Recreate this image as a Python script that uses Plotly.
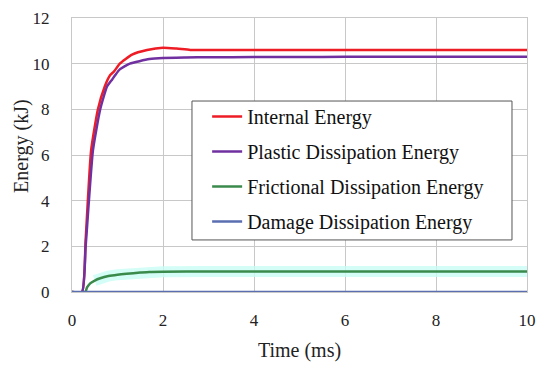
import plotly.graph_objects as go

time_internal = [0, 0.22, 0.3, 0.42, 0.57, 0.72, 0.84, 0.92, 1.05, 1.32, 1.65, 2.0, 2.3, 2.6, 3.0, 4.0, 5.0, 6.0, 7.0, 8.0, 9.0, 10.0]
internal = [0, 0, 2.3, 6.2, 8.0, 9.0, 9.5, 9.65, 10.0, 10.4, 10.6, 10.7, 10.66, 10.6, 10.6, 10.6, 10.6, 10.6, 10.6, 10.6, 10.6, 10.6]

time_plastic = [0, 0.22, 0.3, 0.46, 0.62, 0.77, 0.88, 0.95, 1.05, 1.27, 1.7, 2.0, 2.5, 3.0, 4.0, 5.0, 6.0, 7.0, 8.0, 9.0, 10.0]
plastic = [0, 0, 2.0, 6.2, 8.0, 9.0, 9.3, 9.5, 9.75, 10.0, 10.2, 10.25, 10.27, 10.28, 10.29, 10.29, 10.3, 10.3, 10.3, 10.3, 10.3]

time_frictional = [0, 0.29, 0.33, 0.4, 0.5, 0.62, 0.8, 1.0, 1.2, 1.5, 1.7, 2.0, 3.0, 4.0, 5.0, 6.0, 7.0, 8.0, 9.0, 10.0]
frictional = [0, 0, 0.2, 0.38, 0.5, 0.6, 0.7, 0.76, 0.8, 0.85, 0.88, 0.89, 0.9, 0.9, 0.9, 0.9, 0.9, 0.9, 0.9, 0.9]

time_damage = [0, 10.0]
damage = [0, 0]

series = [
    ("Internal Energy", time_internal, internal, "#ee1c25"),
    ("Plastic Dissipation Energy", time_plastic, plastic, "#7030a0"),
    ("Frictional Dissipation Energy", time_frictional, frictional, "#3a8a4c"),
    ("Damage Dissipation Energy", time_damage, damage, "#5a6eb0"),
]

x_title = "Time (ms)"
y_title = "Energy (kJ)"

font_family = "Liberation Serif, DejaVu Serif, serif"

fig = go.Figure()
# faint cyan halo under frictional curve
fig.add_trace(go.Scatter(x=time_frictional[4:], y=frictional[4:], mode="lines",
                         line=dict(color="rgba(200,252,244,0.8)", width=11),
                         showlegend=False, hoverinfo="skip"))
for i, (name, xs, vals, col) in enumerate(series):
    fig.add_trace(go.Scatter(x=xs, y=vals, mode="lines", name=name,
                             legendgroup=f"g{i}",
                             line=dict(color=col, width=2.5, shape="spline", smoothing=0.5)))

# legend frame
fig.add_shape(type="rect", xref="paper", yref="paper",
              x0=0.2637, x1=0.967, y0=0.19, y1=0.697,
              line=dict(color="#555", width=1), fillcolor="white", layer="above")

# y-axis title as annotation (positioned like the reference)
fig.add_annotation(text=y_title, xref="paper", yref="paper", x=-0.11, y=0.533,
                   xanchor="center", yanchor="middle",
                   textangle=-90, showarrow=False,
                   font=dict(size=20, family=font_family, color="#222"))

fig.update_layout(
    width=542, height=359,
    margin=dict(l=64, r=23, t=10, b=75),
    paper_bgcolor="white", plot_bgcolor="white",
    font=dict(family=font_family, size=18, color="#222"),
    legend=dict(x=0.297, y=0.712, xanchor="left", yanchor="top",
                borderwidth=0, bgcolor="rgba(0,0,0,0)",
                font=dict(size=20, family=font_family, color="#111"),
                tracegroupgap=6, traceorder="grouped", itemwidth=30),
    xaxis=dict(range=[0, 10], dtick=2, showgrid=True, gridcolor="#c8c8c8",
               showline=True, linecolor="#c8c8c8", mirror=True, zeroline=False,
               ticks="", tickfont=dict(size=17), automargin=False,
               ticklabelstandoff=13,
               title=dict(text=x_title, font=dict(size=20), standoff=13)),
    yaxis=dict(range=[0, 12], dtick=2, showgrid=True, gridcolor="#c8c8c8",
               showline=True, linecolor="#c8c8c8", mirror=True, zeroline=False,
               ticks="", tickfont=dict(size=17), automargin=False,
               ticklabelstandoff=18),
)

fig.write_html("out.html")
